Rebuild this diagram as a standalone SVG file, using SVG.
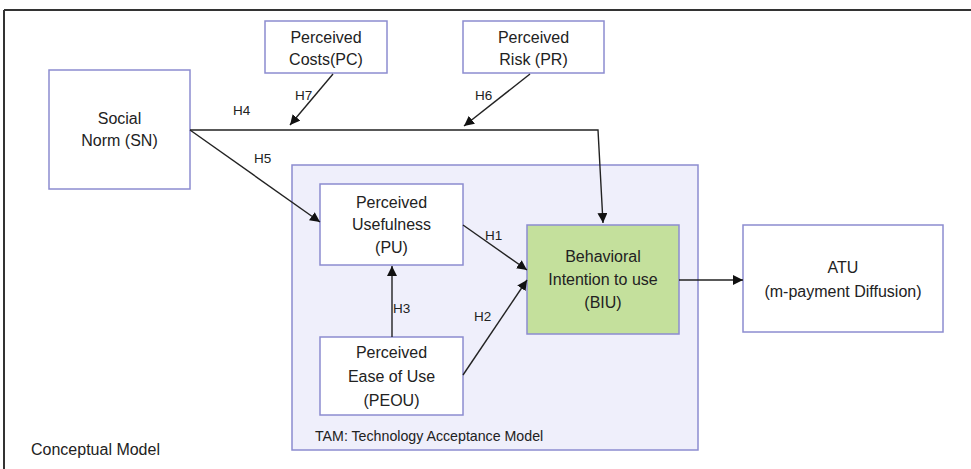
<svg xmlns="http://www.w3.org/2000/svg" width="971" height="469" viewBox="0 0 971 469">
  <style>
    .box { fill: #ffffff; stroke: #8c8cd0; stroke-width: 1.5; }
    .tam { fill: #efeffb; stroke: #8c8cd0; stroke-width: 1.5; }
    .biu { fill: #c4e09c; stroke: #8c8cd0; stroke-width: 1.5; }
    .t { font-family: "Liberation Sans", Arial, sans-serif; font-size: 16px; fill: #222; text-anchor: middle; }
    .lbl { font-family: "Liberation Sans", Arial, sans-serif; font-size: 13.5px; fill: #222; }
    .edge { stroke: #222; stroke-width: 1.4; fill: none; marker-end: url(#arrow); }
  </style>
  <defs>
    <marker id="arrow" viewBox="0 0 10 10" refX="10" refY="5" markerWidth="10" markerHeight="10" markerUnits="userSpaceOnUse" orient="auto">
      <path d="M0,0 L10,5 L0,10 z" fill="#111"/>
    </marker>
  </defs>

  <rect width="971" height="469" fill="#ffffff"/>
  <!-- frame -->
  <line x1="4" y1="10" x2="971" y2="10" stroke="#333" stroke-width="2"/>
  <line x1="4" y1="10" x2="4" y2="469" stroke="#333" stroke-width="2"/>

  <g id="tam">
    <rect class="tam" x="292" y="165" width="406" height="285"/>
    <text class="lbl" x="315" y="441" style="font-size:14.2px">TAM: Technology  Acceptance Model</text>
  </g>

  <g id="sn">
    <rect class="box" x="49" y="70" width="141" height="119"/>
    <text class="t" x="119.5" y="124">Social</text>
    <text class="t" x="119.5" y="146">Norm (SN)</text>
  </g>
  <g id="pc">
    <rect class="box" x="265" y="21" width="122" height="52"/>
    <text class="t" x="326" y="43">Perceived</text>
    <text class="t" x="326" y="65">Costs(PC)</text>
  </g>
  <g id="pr">
    <rect class="box" x="463" y="21" width="141" height="52"/>
    <text class="t" x="533.5" y="43">Perceived</text>
    <text class="t" x="533.5" y="65">Risk (PR)</text>
  </g>
  <g id="pu">
    <rect class="box" x="320" y="184" width="143" height="81"/>
    <text class="t" x="391.5" y="208">Perceived</text>
    <text class="t" x="391.5" y="230">Usefulness</text>
    <text class="t" x="391.5" y="253">(PU)</text>
  </g>
  <g id="peou">
    <rect class="box" x="320" y="337" width="143" height="78"/>
    <text class="t" x="391.5" y="358">Perceived</text>
    <text class="t" x="391.5" y="382">Ease of Use</text>
    <text class="t" x="391.5" y="406">(PEOU)</text>
  </g>
  <g id="biu">
    <rect class="biu" x="527" y="225" width="152" height="109"/>
    <text class="t" x="603" y="262">Behavioral</text>
    <text class="t" x="603" y="285">Intention to use</text>
    <text class="t" x="603" y="308">(BIU)</text>
  </g>
  <g id="atu">
    <rect class="box" x="743" y="225" width="200" height="107"/>
    <text class="t" x="843" y="273">ATU</text>
    <text class="t" x="843" y="297">(m-payment Diffusion)</text>
  </g>

  <g id="connectors">
    <path class="edge" d="M190,130 L598,130 L603,223"/>
    <path class="edge" d="M190,130 L320,222"/>
    <path class="edge" d="M333,74 L290,125"/>
    <path class="edge" d="M530,74 L464,126"/>
    <path class="edge" d="M463,225 L527,270"/>
    <path class="edge" d="M463,375 L527,280"/>
    <path class="edge" d="M392,337 L392,266"/>
    <path class="edge" d="M679,280 L743,280"/>
    <text class="lbl" x="233" y="115">H4</text>
    <text class="lbl" x="295" y="100">H7</text>
    <text class="lbl" x="475" y="100">H6</text>
    <text class="lbl" x="254" y="163">H5</text>
    <text class="lbl" x="485" y="240">H1</text>
    <text class="lbl" x="474" y="321">H2</text>
    <text class="lbl" x="393" y="313">H3</text>
  </g>

  <text class="lbl" x="31" y="455" style="font-size:16px">Conceptual Model</text>
</svg>
